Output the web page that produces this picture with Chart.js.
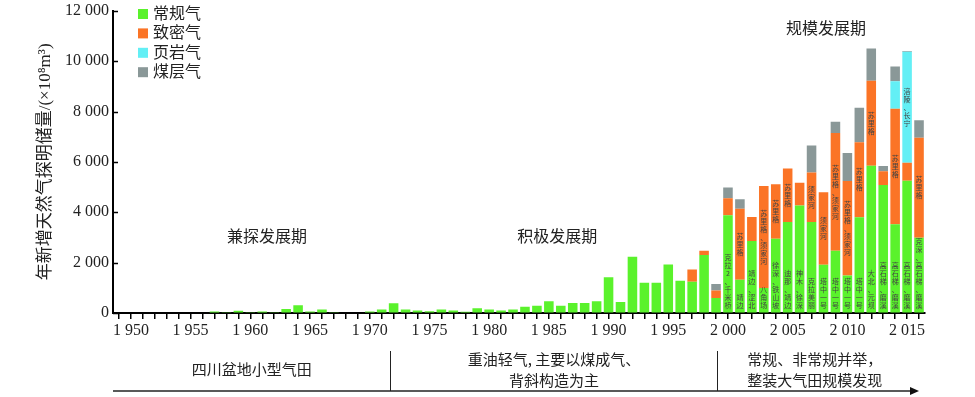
<!DOCTYPE html>
<html>
<head>
<meta charset="utf-8">
<script src="https://cdn.jsdelivr.net/npm/chart.js@4/dist/chart.umd.min.js"></script>
<style>
  html, body { margin: 0; padding: 0; background: #fff; }
  #wrap { width: 975px; height: 397px; position: relative; }
</style>
</head>
<body>
<div id="wrap"><canvas id="c"></canvas></div>
<script>
const years = [
  1949, 1950, 1951, 1952, 1953, 1954, 1955, 1956, 1957, 1958,
  1959, 1960, 1961, 1962, 1963, 1964, 1965, 1966, 1967, 1968,
  1969, 1970, 1971, 1972, 1973, 1974, 1975, 1976, 1977, 1978,
  1979, 1980, 1981, 1982, 1983, 1984, 1985, 1986, 1987, 1988,
  1989, 1990, 1991, 1992, 1993, 1994, 1995, 1996, 1997, 1998,
  1999, 2000, 2001, 2002, 2003, 2004, 2005, 2006, 2007, 2008,
  2009, 2010, 2011, 2012, 2013, 2014, 2015, 2016
];

// 常规气
const conventional = [
  20, 0, 0, 0, 0, 0, 0, 20, 60, 25,
  90, 25, 55, 25, 160, 310, 55, 135, 30, 0,
  0, 60, 140, 390, 140, 100, 70, 140, 100, 45,
  185, 140, 100, 140, 245, 285, 470, 285, 400, 400,
  470, 1420, 440, 2230, 1200, 1200, 1930, 1280, 1240, 2300,
  600, 3880, 1320, 2860, 990, 2950, 3610, 4270, 3610, 1920,
  2470, 1490, 3800, 5850, 5080, 3520, 5250, 2990
];
// 致密气
const tight = [
  0, 0, 0, 0, 0, 0, 0, 0, 0, 0,
  0, 0, 0, 0, 0, 0, 0, 0, 0, 0,
  0, 0, 0, 0, 0, 0, 0, 0, 0, 0,
  0, 0, 0, 0, 0, 0, 0, 0, 0, 0,
  0, 0, 0, 0, 0, 0, 0, 0, 490, 170,
  290, 680, 2820, 955, 4050, 2160, 2130, 900, 1970, 2875,
  4680, 3750, 2980, 3370, 550, 4590, 720, 3970
];
// 页岩气
const shale = [
  0, 0, 0, 0, 0, 0, 0, 0, 0, 0,
  0, 0, 0, 0, 0, 0, 0, 0, 0, 0,
  0, 0, 0, 0, 0, 0, 0, 0, 0, 0,
  0, 0, 0, 0, 0, 0, 0, 0, 0, 0,
  0, 0, 0, 0, 0, 0, 0, 0, 0, 0,
  0, 0, 0, 0, 0, 0, 0, 0, 0, 0,
  0, 0, 0, 0, 0, 1090, 4400, 0
];
// 煤层气
const cbm = [
  0, 0, 0, 0, 0, 0, 0, 0, 0, 0,
  0, 0, 0, 0, 0, 0, 0, 0, 0, 0,
  0, 0, 0, 0, 0, 0, 0, 0, 0, 0,
  0, 0, 0, 0, 0, 0, 0, 0, 0, 0,
  0, 0, 0, 0, 0, 0, 0, 0, 0, 0,
  260, 420, 380, 0, 0, 0, 0, 0, 1070, 0,
  440, 1110, 1370, 1280, 210, 590, 30, 690
];

const seriesNames = ["常规气", "致密气", "页岩气", "煤层气"];
const yTicks = [0, 2000, 4000, 6000, 8000, 10000, 12000];

// 气田名称: [年份, 系列序号, 文字]
const fieldNotes = [
  [2000, 0, "克拉2、千米桥"],
  [2001, 1, "苏里格"], [2001, 0, "靖边"],
  [2002, 0, "靖边、涩北"],
  [2003, 1, "苏里格、须家河"], [2003, 0, "八角场"],
  [2004, 1, "苏里格"], [2004, 0, "徐深、铁山坡"],
  [2005, 1, "苏里格"], [2005, 0, "迪那、靖边"],
  [2006, 0, "神木、徐深"],
  [2007, 1, "须家河"], [2007, 0, "克拉美丽"],
  [2008, 1, "须家河"], [2008, 0, "塔中一号"],
  [2009, 1, "苏里格、须家河"], [2009, 0, "塔中一号"],
  [2010, 1, "苏里格、须家河"], [2010, 0, "塔中一号"],
  [2011, 1, "苏里格"], [2011, 0, "塔中一号"],
  [2012, 1, "苏里格"], [2012, 0, "大北、元坝"],
  [2013, 0, "高石梯、磨溪"],
  [2014, 1, "苏里格"], [2014, 0, "高石梯、磨溪"],
  [2015, 2, "涪陵、长宁"], [2015, 0, "高石梯、磨溪"],
  [2016, 1, "苏里格"], [2016, 0, "克深、高石梯、磨溪"]
];

const periodNames = [
  [1961.4, 3080, "兼探发展期"],
  [1985.7, 3080, "积极发展期"],
  [2008.2, 11330, "规模发展期"]
];
const phaseBreaks = [1971.7, 1999.1];
const phaseTexts = [
  ["四川盆地小型气田"],
  ["重油轻气, 主要以煤成气、", "背斜构造为主"],
  ["常规、非常规并举，", "整装大气田规模发现"]
];

const serif = "'Liberation Serif', 'Noto Sans CJK SC', serif";
const cjk = "'Noto Sans CJK SC', sans-serif";
const colors = ["#5af22c", "#fb7426", "#63eff5", "#8a9898"];

const fmt = (n) => String(n).replace(/(\d)(?=(\d{3})+$)/, "$1 ");

const yearPx = (chart, yr) => chart.scales.x.getPixelForValue(yr - years[0]);

const notesPlugin = {
  id: "notes",
  afterDatasetsDraw(chart) {
    const ctx = chart.ctx;
    ctx.save();
    ctx.font = "7px " + cjk;
    ctx.fillStyle = "#444";
    ctx.textAlign = "center";
    ctx.textBaseline = "middle";
    fieldNotes.forEach(([yr, ds, text]) => {
      const bar = chart.getDatasetMeta(ds).data[years.indexOf(yr)];
      const chars = [...text];
      const step = 8;
      const h = chars.length * step;
      const top = ds === 0 ? bar.base - 3 - h : (bar.y + bar.base) / 2 - h / 2;
      chars.forEach((ch, i) => ctx.fillText(ch, bar.x, top + step * (i + 0.5)));
    });
    ctx.restore();
  },
};

const decorPlugin = {
  id: "decor",
  afterDraw(chart) {
    const ctx = chart.ctx;
    const a = chart.chartArea;
    const ys = chart.scales.y;
    ctx.save();

    // inward ticks on the y axis
    ctx.strokeStyle = "#000";
    ctx.lineWidth = 1.5;
    yTicks.forEach((v) => {
      const y = Math.round(ys.getPixelForValue(v)) + 0.5;
      ctx.beginPath();
      ctx.moveTo(a.left, y);
      ctx.lineTo(a.left + 5, y);
      ctx.stroke();
    });

    // legend
    ctx.font = "16px " + cjk;
    ctx.textBaseline = "middle";
    ctx.textAlign = "left";
    chart.data.datasets.forEach((d, i) => {
      const y = 14 + i * 19.4;
      ctx.fillStyle = d.backgroundColor;
      ctx.fillRect(a.left + 25, y - 5, 10, 10);
      ctx.fillStyle = "#222";
      ctx.fillText(d.label, a.left + 40, y - 1);
    });

    // period names
    ctx.textAlign = "center";
    periodNames.forEach(([yr, v, t]) => {
      ctx.fillText(t, yearPx(chart, yr), ys.getPixelForValue(v));
    });

    // y title
    ctx.save();
    ctx.translate(46, (a.top + a.bottom) / 2);
    ctx.rotate(-Math.PI / 2);
    ctx.font = "17px " + serif;
    ctx.fillText("年新增天然气探明储量/(×10⁸m³)", 0, 0);
    ctx.restore();

    // bottom timeline
    const lineY = 391;
    const endX = 912;
    ctx.strokeStyle = "#222";
    ctx.lineWidth = 1.5;
    ctx.beginPath();
    ctx.moveTo(a.left, lineY);
    ctx.lineTo(endX, lineY);
    ctx.stroke();
    ctx.fillStyle = "#111";
    ctx.beginPath();
    ctx.moveTo(endX + 7, lineY);
    ctx.lineTo(endX - 2, lineY - 4);
    ctx.lineTo(endX - 2, lineY + 4);
    ctx.closePath();
    ctx.fill();

    const bx = phaseBreaks.map((yr) => Math.round(yearPx(chart, yr)) + 0.5);
    ctx.lineWidth = 1;
    bx.forEach((x) => {
      ctx.beginPath();
      ctx.moveTo(x, 351);
      ctx.lineTo(x, lineY);
      ctx.stroke();
    });
    const edges = [a.left, ...bx, endX];
    ctx.font = "15px " + cjk;
    ctx.fillStyle = "#222";
    phaseTexts.forEach((lines, i) => {
      const cx = (edges[i] + edges[i + 1]) / 2;
      if (lines.length === 1) {
        ctx.fillText(lines[0], cx, 369);
      } else {
        ctx.fillText(lines[0], cx, 359);
        ctx.fillText(lines[1], cx, 380);
      }
    });
    ctx.restore();
  },
};

const values = [conventional, tight, shale, cbm];

new Chart(document.getElementById("c").getContext("2d"), {
  type: "bar",
  data: {
    labels: years,
    datasets: values.map((data, i) => ({
      label: seriesNames[i],
      data,
      backgroundColor: colors[i],
      borderWidth: 0,
      barPercentage: 0.8,
      categoryPercentage: 1.0,
    })),
  },
  options: {
    responsive: true,
    maintainAspectRatio: false,
    animation: false,
    layout: { padding: { left: 0, right: 50, top: 0, bottom: 54 } },
    plugins: { legend: { display: false }, tooltip: { enabled: false } },
    scales: {
      x: {
        stacked: true,
        grid: { drawOnChartArea: false, offset: false, tickLength: 6, color: "#000", lineWidth: 1.5 },
        border: { color: "#000", width: 2 },
        ticks: {
          autoSkip: false,
          maxRotation: 0,
          padding: 2,
          color: "#222",
          font: { family: serif, size: 16 },
          callback: (v, i) => (years[i] % 5 === 0 ? fmt(years[i]) : ""),
        },
        afterFit: (s) => { s.height = 30; },
      },
      y: {
        stacked: true,
        min: 0,
        max: 12000,
        grid: { drawOnChartArea: false, drawTicks: false },
        border: { color: "#000", width: 2 },
        ticks: {
          stepSize: 2000,
          padding: 4,
          color: "#222",
          font: { family: serif, size: 16, lineHeight: 0.85 },
          callback: (v) => fmt(v),
        },
        afterFit: (s) => { s.width = 113; },
      },
    },
  },
  plugins: [notesPlugin, decorPlugin],
});
</script>
</body>
</html>
